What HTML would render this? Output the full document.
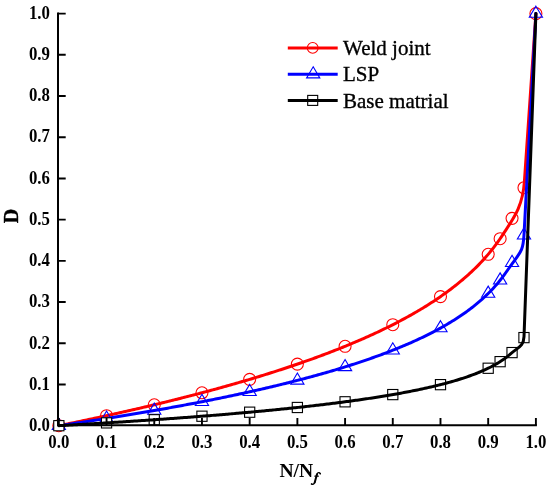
<!DOCTYPE html>
<html><head><meta charset="utf-8"><style>
html,body{margin:0;padding:0;background:#fff;}
svg{display:block;will-change:transform;}
text{font-family:"Liberation Serif",serif;}
</style></head><body>
<svg width="550" height="489" viewBox="0 0 550 489">
<rect width="550" height="489" fill="#fff"/>
<path d="M58.85,425.70 L60.33,425.40 L61.81,425.10 L63.29,424.80 L64.77,424.50 L66.24,424.20 L67.72,423.90 L69.20,423.59 L70.68,423.29 L72.16,422.99 L73.64,422.68 L75.12,422.37 L76.60,422.07 L78.08,421.76 L79.55,421.45 L81.03,421.14 L82.51,420.83 L83.99,420.52 L85.47,420.21 L86.95,419.90 L88.43,419.59 L89.91,419.27 L91.38,418.96 L92.86,418.64 L94.34,418.33 L95.82,418.01 L97.30,417.69 L98.78,417.37 L100.26,417.05 L101.74,416.73 L103.22,416.41 L104.69,416.09 L106.17,415.77 L107.65,415.45 L109.13,415.12 L110.61,414.80 L112.09,414.47 L113.57,414.14 L115.05,413.81 L116.53,413.49 L118.00,413.16 L119.48,412.83 L120.96,412.49 L122.44,412.16 L123.92,411.83 L125.40,411.49 L126.88,411.16 L128.36,410.82 L129.84,410.49 L131.31,410.15 L132.79,409.81 L134.27,409.47 L135.75,409.13 L137.23,408.79 L138.71,408.44 L140.19,408.10 L141.67,407.75 L143.14,407.41 L144.62,407.06 L146.10,406.71 L147.58,406.37 L149.06,406.02 L150.54,405.66 L152.02,405.31 L153.50,404.96 L154.98,404.61 L156.45,404.25 L157.93,403.90 L159.41,403.54 L160.89,403.18 L162.37,402.82 L163.85,402.46 L165.33,402.10 L166.81,401.74 L168.29,401.37 L169.76,401.01 L171.24,400.64 L172.72,400.27 L174.20,399.91 L175.68,399.54 L177.16,399.17 L178.64,398.79 L180.12,398.42 L181.59,398.05 L183.07,397.67 L184.55,397.30 L186.03,396.92 L187.51,396.54 L188.99,396.16 L190.47,395.78 L191.95,395.40 L193.43,395.01 L194.90,394.63 L196.38,394.24 L197.86,393.85 L199.34,393.46 L200.82,393.07 L202.30,392.68 L203.78,392.29 L205.26,391.89 L206.74,391.50 L208.21,391.10 L209.69,390.70 L211.17,390.30 L212.65,389.90 L214.13,389.50 L215.61,389.09 L217.09,388.69 L218.57,388.28 L220.05,387.87 L221.52,387.46 L223.00,387.05 L224.48,386.64 L225.96,386.22 L227.44,385.81 L228.92,385.39 L230.40,384.97 L231.88,384.55 L233.35,384.13 L234.83,383.71 L236.31,383.28 L237.79,382.85 L239.27,382.42 L240.75,381.99 L242.23,381.56 L243.71,381.13 L245.19,380.69 L246.66,380.26 L248.14,379.82 L249.62,379.38 L251.10,378.94 L252.58,378.49 L254.06,378.05 L255.54,377.60 L257.02,377.15 L258.50,376.70 L259.97,376.25 L261.45,375.79 L262.93,375.33 L264.41,374.88 L265.89,374.42 L267.37,373.95 L268.85,373.49 L270.33,373.02 L271.81,372.55 L273.28,372.08 L274.76,371.61 L276.24,371.14 L277.72,370.66 L279.20,370.18 L280.68,369.70 L282.16,369.22 L283.64,368.73 L285.11,368.25 L286.59,367.76 L288.07,367.26 L289.55,366.77 L291.03,366.27 L292.51,365.78 L293.99,365.28 L295.47,364.77 L296.95,364.27 L298.42,363.76 L299.90,363.25 L301.38,362.74 L302.86,362.22 L304.34,361.70 L305.82,361.18 L307.30,360.66 L308.78,360.13 L310.26,359.61 L311.73,359.07 L313.21,358.54 L314.69,358.00 L316.17,357.47 L317.65,356.92 L319.13,356.38 L320.61,355.83 L322.09,355.28 L323.57,354.73 L325.04,354.17 L326.52,353.61 L328.00,353.05 L329.48,352.48 L330.96,351.92 L332.44,351.34 L333.92,350.77 L335.40,350.19 L336.87,349.61 L338.35,349.03 L339.83,348.44 L341.31,347.85 L342.79,347.25 L344.27,346.65 L345.75,346.05 L347.23,345.45 L348.71,344.84 L350.18,344.22 L351.66,343.61 L353.14,342.99 L354.62,342.36 L356.10,341.73 L357.58,341.10 L359.06,340.47 L360.54,339.83 L362.02,339.18 L363.49,338.53 L364.97,337.88 L366.45,337.22 L367.93,336.56 L369.41,335.89 L370.89,335.22 L372.37,334.55 L373.85,333.87 L375.32,333.18 L376.80,332.49 L378.28,331.80 L379.76,331.10 L381.24,330.39 L382.72,329.68 L384.20,328.97 L385.68,328.25 L387.16,327.52 L388.63,326.79 L390.11,326.05 L391.59,325.31 L393.07,324.56 L394.55,323.81 L396.03,323.05 L397.51,322.28 L398.99,321.51 L400.47,320.73 L401.94,319.94 L403.42,319.15 L404.90,318.35 L406.38,317.54 L407.86,316.73 L409.34,315.90 L410.82,315.08 L412.30,314.24 L413.78,313.40 L415.25,312.54 L416.73,311.69 L418.21,310.82 L419.69,309.94 L421.17,309.06 L422.65,308.16 L424.13,307.26 L425.61,306.35 L427.08,305.43 L428.56,304.50 L430.04,303.55 L431.52,302.60 L433.00,301.64 L434.48,300.67 L435.96,299.69 L437.44,298.69 L438.92,297.69 L440.39,296.67 L441.87,295.64 L443.35,294.60 L444.83,293.54 L446.31,292.48 L447.79,291.39 L449.27,290.30 L450.75,289.19 L452.23,288.06 L453.70,286.92 L455.18,285.77 L456.66,284.59 L458.14,283.40 L459.62,282.20 L461.10,280.97 L462.58,279.73 L464.06,278.47 L465.54,277.18 L467.01,275.88 L468.49,274.55 L469.97,273.20 L471.45,271.83 L472.93,270.44 L474.41,269.02 L475.89,267.57 L477.37,266.09 L478.84,264.59 L480.32,263.05 L481.80,261.49 L483.28,259.89 L484.76,258.25 L486.24,256.58 L487.72,254.87 L489.20,253.12 L490.68,251.33 L492.15,249.49 L493.63,247.61 L495.11,245.67 L496.59,243.68 L498.07,241.63 L499.55,239.51 L501.03,237.33 L502.51,235.08 C512.82,219.10 522.61,207.64 524.38,181.76 L535.90,13.60" fill="none" stroke="#ff0000" stroke-width="3" stroke-linejoin="round" stroke-linecap="round"/>
<circle cx="58.85" cy="425.70" r="6" fill="none" stroke="#ff0000" stroke-width="1.1"/>
<circle cx="106.56" cy="415.69" r="6" fill="none" stroke="#ff0000" stroke-width="1.1"/>
<circle cx="154.26" cy="404.78" r="6" fill="none" stroke="#ff0000" stroke-width="1.1"/>
<circle cx="201.96" cy="392.77" r="6" fill="none" stroke="#ff0000" stroke-width="1.1"/>
<circle cx="249.67" cy="379.36" r="6" fill="none" stroke="#ff0000" stroke-width="1.1"/>
<circle cx="297.38" cy="364.12" r="6" fill="none" stroke="#ff0000" stroke-width="1.1"/>
<circle cx="345.08" cy="346.32" r="6" fill="none" stroke="#ff0000" stroke-width="1.1"/>
<circle cx="392.78" cy="324.71" r="6" fill="none" stroke="#ff0000" stroke-width="1.1"/>
<circle cx="440.49" cy="296.60" r="6" fill="none" stroke="#ff0000" stroke-width="1.1"/>
<circle cx="488.19" cy="254.31" r="6" fill="none" stroke="#ff0000" stroke-width="1.1"/>
<circle cx="500.12" cy="238.68" r="6" fill="none" stroke="#ff0000" stroke-width="1.1"/>
<circle cx="512.05" cy="218.34" r="6" fill="none" stroke="#ff0000" stroke-width="1.1"/>
<circle cx="523.97" cy="187.75" r="6" fill="none" stroke="#ff0000" stroke-width="1.1"/>
<circle cx="535.90" cy="13.60" r="6" fill="none" stroke="#ff0000" stroke-width="1.1"/>
<path d="M58.85,425.70 L60.34,425.48 L61.83,425.27 L63.32,425.05 L64.81,424.83 L66.30,424.61 L67.79,424.39 L69.29,424.17 L70.78,423.95 L72.27,423.73 L73.76,423.51 L75.25,423.29 L76.74,423.06 L78.23,422.84 L79.72,422.61 L81.21,422.39 L82.70,422.16 L84.19,421.94 L85.68,421.71 L87.17,421.48 L88.67,421.26 L90.16,421.03 L91.65,420.80 L93.14,420.57 L94.63,420.34 L96.12,420.11 L97.61,419.87 L99.10,419.64 L100.59,419.41 L102.08,419.18 L103.57,418.94 L105.06,418.71 L106.56,418.47 L108.05,418.23 L109.54,418.00 L111.03,417.76 L112.52,417.52 L114.01,417.28 L115.50,417.04 L116.99,416.80 L118.48,416.56 L119.97,416.32 L121.46,416.07 L122.95,415.83 L124.44,415.59 L125.94,415.34 L127.43,415.09 L128.92,414.85 L130.41,414.60 L131.90,414.35 L133.39,414.10 L134.88,413.85 L136.37,413.60 L137.86,413.35 L139.35,413.10 L140.84,412.85 L142.33,412.59 L143.82,412.34 L145.32,412.09 L146.81,411.83 L148.30,411.57 L149.79,411.31 L151.28,411.06 L152.77,410.80 L154.26,410.54 L155.75,410.28 L157.24,410.01 L158.73,409.75 L160.22,409.49 L161.71,409.22 L163.20,408.96 L164.70,408.69 L166.19,408.43 L167.68,408.16 L169.17,407.89 L170.66,407.62 L172.15,407.35 L173.64,407.08 L175.13,406.80 L176.62,406.53 L178.11,406.26 L179.60,405.98 L181.09,405.70 L182.58,405.43 L184.08,405.15 L185.57,404.87 L187.06,404.59 L188.55,404.31 L190.04,404.03 L191.53,403.74 L193.02,403.46 L194.51,403.17 L196.00,402.89 L197.49,402.60 L198.98,402.31 L200.47,402.02 L201.96,401.73 L203.46,401.44 L204.95,401.15 L206.44,400.85 L207.93,400.56 L209.42,400.26 L210.91,399.97 L212.40,399.67 L213.89,399.37 L215.38,399.07 L216.87,398.77 L218.36,398.46 L219.85,398.16 L221.35,397.85 L222.84,397.55 L224.33,397.24 L225.82,396.93 L227.31,396.62 L228.80,396.31 L230.29,395.99 L231.78,395.68 L233.27,395.37 L234.76,395.05 L236.25,394.73 L237.74,394.41 L239.23,394.09 L240.73,393.77 L242.22,393.45 L243.71,393.12 L245.20,392.80 L246.69,392.47 L248.18,392.14 L249.67,391.81 L251.16,391.48 L252.65,391.14 L254.14,390.81 L255.63,390.47 L257.12,390.14 L258.61,389.80 L260.11,389.46 L261.60,389.11 L263.09,388.77 L264.58,388.43 L266.07,388.08 L267.56,387.73 L269.05,387.38 L270.54,387.03 L272.03,386.68 L273.52,386.32 L275.01,385.96 L276.50,385.61 L277.99,385.25 L279.49,384.88 L280.98,384.52 L282.47,384.16 L283.96,383.79 L285.45,383.42 L286.94,383.05 L288.43,382.68 L289.92,382.30 L291.41,381.92 L292.90,381.55 L294.39,381.17 L295.88,380.78 L297.38,380.40 L298.87,380.01 L300.36,379.63 L301.85,379.24 L303.34,378.84 L304.83,378.45 L306.32,378.05 L307.81,377.65 L309.30,377.25 L310.79,376.85 L312.28,376.44 L313.77,376.04 L315.26,375.63 L316.76,375.22 L318.25,374.80 L319.74,374.38 L321.23,373.96 L322.72,373.54 L324.21,373.12 L325.70,372.69 L327.19,372.26 L328.68,371.83 L330.17,371.40 L331.66,370.96 L333.15,370.52 L334.64,370.08 L336.14,369.63 L337.63,369.19 L339.12,368.74 L340.61,368.28 L342.10,367.83 L343.59,367.37 L345.08,366.90 L346.57,366.44 L348.06,365.97 L349.55,365.50 L351.04,365.02 L352.53,364.55 L354.02,364.07 L355.52,363.58 L357.01,363.09 L358.50,362.60 L359.99,362.11 L361.48,361.61 L362.97,361.11 L364.46,360.60 L365.95,360.10 L367.44,359.58 L368.93,359.07 L370.42,358.55 L371.91,358.02 L373.40,357.49 L374.90,356.96 L376.39,356.43 L377.88,355.89 L379.37,355.34 L380.86,354.79 L382.35,354.24 L383.84,353.68 L385.33,353.12 L386.82,352.55 L388.31,351.98 L389.80,351.40 L391.29,350.82 L392.78,350.23 L394.28,349.64 L395.77,349.05 L397.26,348.44 L398.75,347.84 L400.24,347.22 L401.73,346.60 L403.22,345.98 L404.71,345.35 L406.20,344.71 L407.69,344.07 L409.18,343.42 L410.67,342.77 L412.17,342.11 L413.66,341.44 L415.15,340.76 L416.64,340.08 L418.13,339.39 L419.62,338.69 L421.11,337.99 L422.60,337.28 L424.09,336.56 L425.58,335.83 L427.07,335.10 L428.56,334.35 L430.05,333.60 L431.55,332.84 L433.04,332.07 L434.53,331.29 L436.02,330.50 L437.51,329.70 L439.00,328.89 L440.49,328.07 L441.98,327.24 L443.47,326.39 L444.96,325.54 L446.45,324.68 L447.94,323.80 L449.43,322.91 L450.93,322.01 L452.42,321.09 L453.91,320.16 L455.40,319.22 L456.89,318.26 L458.38,317.29 L459.87,316.30 L461.36,315.29 L462.85,314.27 L464.34,313.23 L465.83,312.17 L467.32,311.10 L468.81,310.00 L470.31,308.88 L471.80,307.74 L473.29,306.58 L474.78,305.40 L476.27,304.19 L477.76,302.96 L479.25,301.70 L480.74,300.41 L482.23,299.09 L483.72,297.75 L485.21,296.37 L486.70,294.95 L488.19,293.50 L489.69,292.01 L491.18,290.48 L492.67,288.91 L494.16,287.29 L495.65,285.62 L497.14,283.90 L498.63,282.13 L500.12,280.29 L501.61,278.39 L503.10,276.42 L504.59,274.38 L506.08,272.25 C520.32,251.50 523.01,253.19 524.03,234.35 L535.90,13.60" fill="none" stroke="#0000ff" stroke-width="3" stroke-linejoin="round" stroke-linecap="round"/>
<path d="M58.85,418.30 L65.45,429.40 L52.25,429.40 Z" fill="none" stroke="#0000ff" stroke-width="1.1" stroke-linejoin="miter"/>
<path d="M106.56,411.07 L113.16,422.17 L99.96,422.17 Z" fill="none" stroke="#0000ff" stroke-width="1.1" stroke-linejoin="miter"/>
<path d="M154.26,403.14 L160.86,414.24 L147.66,414.24 Z" fill="none" stroke="#0000ff" stroke-width="1.1" stroke-linejoin="miter"/>
<path d="M201.96,394.33 L208.56,405.43 L195.36,405.43 Z" fill="none" stroke="#0000ff" stroke-width="1.1" stroke-linejoin="miter"/>
<path d="M249.67,384.41 L256.27,395.51 L243.07,395.51 Z" fill="none" stroke="#0000ff" stroke-width="1.1" stroke-linejoin="miter"/>
<path d="M297.38,373.00 L303.98,384.10 L290.77,384.10 Z" fill="none" stroke="#0000ff" stroke-width="1.1" stroke-linejoin="miter"/>
<path d="M345.08,359.50 L351.68,370.60 L338.48,370.60 Z" fill="none" stroke="#0000ff" stroke-width="1.1" stroke-linejoin="miter"/>
<path d="M392.78,342.83 L399.38,353.93 L386.18,353.93 Z" fill="none" stroke="#0000ff" stroke-width="1.1" stroke-linejoin="miter"/>
<path d="M440.49,320.67 L447.09,331.77 L433.89,331.77 Z" fill="none" stroke="#0000ff" stroke-width="1.1" stroke-linejoin="miter"/>
<path d="M488.19,286.10 L494.80,297.20 L481.59,297.20 Z" fill="none" stroke="#0000ff" stroke-width="1.1" stroke-linejoin="miter"/>
<path d="M500.12,272.89 L506.72,283.99 L493.52,283.99 Z" fill="none" stroke="#0000ff" stroke-width="1.1" stroke-linejoin="miter"/>
<path d="M512.05,255.33 L518.65,266.43 L505.45,266.43 Z" fill="none" stroke="#0000ff" stroke-width="1.1" stroke-linejoin="miter"/>
<path d="M523.97,227.95 L530.57,239.05 L517.37,239.05 Z" fill="none" stroke="#0000ff" stroke-width="1.1" stroke-linejoin="miter"/>
<path d="M535.90,6.20 L542.50,17.30 L529.30,17.30 Z" fill="none" stroke="#0000ff" stroke-width="1.1" stroke-linejoin="miter"/>
<rect x="53.75" y="420.60" width="10.2" height="10.2" fill="#fff" stroke="#000" stroke-width="1.1"/>
<rect x="101.46" y="417.78" width="10.2" height="10.2" fill="#fff" stroke="#000" stroke-width="1.1"/>
<rect x="149.16" y="414.65" width="10.2" height="10.2" fill="#fff" stroke="#000" stroke-width="1.1"/>
<rect x="196.86" y="411.13" width="10.2" height="10.2" fill="#fff" stroke="#000" stroke-width="1.1"/>
<rect x="244.57" y="407.10" width="10.2" height="10.2" fill="#fff" stroke="#000" stroke-width="1.1"/>
<rect x="292.27" y="402.39" width="10.2" height="10.2" fill="#fff" stroke="#000" stroke-width="1.1"/>
<rect x="339.98" y="396.70" width="10.2" height="10.2" fill="#fff" stroke="#000" stroke-width="1.1"/>
<rect x="387.68" y="389.49" width="10.2" height="10.2" fill="#fff" stroke="#000" stroke-width="1.1"/>
<rect x="435.39" y="379.55" width="10.2" height="10.2" fill="#fff" stroke="#000" stroke-width="1.1"/>
<rect x="483.09" y="363.15" width="10.2" height="10.2" fill="#fff" stroke="#000" stroke-width="1.1"/>
<rect x="495.02" y="356.56" width="10.2" height="10.2" fill="#fff" stroke="#000" stroke-width="1.1"/>
<rect x="506.95" y="347.48" width="10.2" height="10.2" fill="#fff" stroke="#000" stroke-width="1.1"/>
<rect x="518.87" y="332.50" width="10.2" height="10.2" fill="#fff" stroke="#000" stroke-width="1.1"/>
<path d="M58.85,425.70 L60.36,425.62 L61.86,425.53 L63.37,425.44 L64.88,425.36 L66.38,425.27 L67.89,425.19 L69.40,425.10 L70.90,425.01 L72.41,424.93 L73.92,424.84 L75.42,424.75 L76.93,424.66 L78.44,424.58 L79.94,424.49 L81.45,424.40 L82.96,424.31 L84.46,424.22 L85.97,424.13 L87.48,424.04 L88.98,423.95 L90.49,423.86 L92.00,423.77 L93.50,423.68 L95.01,423.59 L96.52,423.50 L98.02,423.40 L99.53,423.31 L101.04,423.22 L102.54,423.13 L104.05,423.03 L105.56,422.94 L107.06,422.85 L108.57,422.75 L110.08,422.66 L111.58,422.56 L113.09,422.47 L114.60,422.37 L116.10,422.28 L117.61,422.18 L119.12,422.09 L120.62,421.99 L122.13,421.89 L123.64,421.80 L125.14,421.70 L126.65,421.60 L128.16,421.50 L129.66,421.41 L131.17,421.31 L132.68,421.21 L134.18,421.11 L135.69,421.01 L137.20,420.91 L138.70,420.81 L140.21,420.71 L141.72,420.60 L143.22,420.50 L144.73,420.40 L146.24,420.30 L147.74,420.20 L149.25,420.09 L150.76,419.99 L152.26,419.89 L153.77,419.78 L155.28,419.68 L156.78,419.57 L158.29,419.47 L159.80,419.36 L161.30,419.25 L162.81,419.15 L164.32,419.04 L165.82,418.93 L167.33,418.83 L168.84,418.72 L170.34,418.61 L171.85,418.50 L173.36,418.39 L174.86,418.28 L176.37,418.17 L177.88,418.06 L179.38,417.95 L180.89,417.84 L182.40,417.72 L183.90,417.61 L185.41,417.50 L186.92,417.39 L188.42,417.27 L189.93,417.16 L191.44,417.04 L192.94,416.93 L194.45,416.81 L195.96,416.70 L197.46,416.58 L198.97,416.46 L200.48,416.34 L201.98,416.23 L203.49,416.11 L205.00,415.99 L206.50,415.87 L208.01,415.75 L209.52,415.63 L211.02,415.51 L212.53,415.38 L214.04,415.26 L215.55,415.14 L217.05,415.02 L218.56,414.89 L220.07,414.77 L221.57,414.64 L223.08,414.52 L224.59,414.39 L226.09,414.26 L227.60,414.14 L229.11,414.01 L230.61,413.88 L232.12,413.75 L233.63,413.62 L235.13,413.49 L236.64,413.36 L238.15,413.23 L239.65,413.10 L241.16,412.96 L242.67,412.83 L244.17,412.70 L245.68,412.56 L247.19,412.43 L248.69,412.29 L250.20,412.15 L251.71,412.02 L253.21,411.88 L254.72,411.74 L256.23,411.60 L257.73,411.46 L259.24,411.32 L260.75,411.18 L262.25,411.03 L263.76,410.89 L265.27,410.75 L266.77,410.60 L268.28,410.46 L269.79,410.31 L271.29,410.16 L272.80,410.02 L274.31,409.87 L275.81,409.72 L277.32,409.57 L278.83,409.42 L280.33,409.27 L281.84,409.11 L283.35,408.96 L284.85,408.81 L286.36,408.65 L287.87,408.50 L289.37,408.34 L290.88,408.18 L292.39,408.02 L293.89,407.86 L295.40,407.70 L296.91,407.54 L298.41,407.38 L299.92,407.22 L301.43,407.05 L302.93,406.89 L304.44,406.72 L305.95,406.55 L307.45,406.38 L308.96,406.21 L310.47,406.04 L311.97,405.87 L313.48,405.70 L314.99,405.53 L316.49,405.35 L318.00,405.17 L319.51,405.00 L321.01,404.82 L322.52,404.64 L324.03,404.46 L325.53,404.28 L327.04,404.09 L328.55,403.91 L330.05,403.72 L331.56,403.54 L333.07,403.35 L334.57,403.16 L336.08,402.97 L337.59,402.78 L339.09,402.58 L340.60,402.39 L342.11,402.19 L343.61,402.00 L345.12,401.80 L346.63,401.60 L348.13,401.39 L349.64,401.19 L351.15,400.98 L352.65,400.78 L354.16,400.57 L355.67,400.36 L357.17,400.15 L358.68,399.93 L360.19,399.72 L361.69,399.50 L363.20,399.28 L364.71,399.06 L366.21,398.84 L367.72,398.62 L369.23,398.39 L370.73,398.16 L372.24,397.93 L373.75,397.70 L375.25,397.47 L376.76,397.23 L378.27,397.00 L379.77,396.76 L381.28,396.51 L382.79,396.27 L384.29,396.02 L385.80,395.77 L387.31,395.52 L388.81,395.27 L390.32,395.01 L391.83,394.75 L393.33,394.49 L394.84,394.23 L396.35,393.96 L397.85,393.69 L399.36,393.42 L400.87,393.15 L402.37,392.87 L403.88,392.59 L405.39,392.30 L406.89,392.02 L408.40,391.73 L409.91,391.44 L411.41,391.14 L412.92,390.84 L414.43,390.54 L415.93,390.23 L417.44,389.92 L418.95,389.61 L420.45,389.29 L421.96,388.97 L423.47,388.64 L424.97,388.31 L426.48,387.98 L427.99,387.64 L429.49,387.30 L431.00,386.95 L432.51,386.60 L434.01,386.24 L435.52,385.88 L437.03,385.51 L438.53,385.14 L440.04,384.76 L441.55,384.38 L443.05,383.99 L444.56,383.59 L446.07,383.19 L447.57,382.79 L449.08,382.37 L450.59,381.95 L452.09,381.52 L453.60,381.09 L455.11,380.65 L456.61,380.20 L458.12,379.74 L459.63,379.27 L461.13,378.80 L462.64,378.31 L464.15,377.82 L465.65,377.31 L467.16,376.80 L468.67,376.28 L470.17,375.74 L471.68,375.19 L473.19,374.63 L474.69,374.06 L476.20,373.48 L477.71,372.88 L479.21,372.26 L480.72,371.63 L482.23,370.99 L483.73,370.33 L485.24,369.64 L486.75,368.94 L488.25,368.22 L489.76,367.48 L491.27,366.72 L492.77,365.93 L494.28,365.11 L495.79,364.27 L497.29,363.39 L498.80,362.49 L500.31,361.54 L501.81,360.56 L503.32,359.54 L504.83,358.48 L506.33,357.36 L507.84,356.19 L509.35,354.96 L510.85,353.66 C518.11,347.24 523.65,346.29 524.01,336.60 L535.90,13.60" fill="none" stroke="#000" stroke-width="3" stroke-linejoin="round" stroke-linecap="round"/>
<path d="M58.0,12.6 V425.3 H536.9" fill="none" stroke="#000" stroke-width="2"/>
<path d="M58.0,425.70 H65.7 M58.85,425.3 V418 M58.0,384.49 H65.7 M106.56,425.3 V418 M58.0,343.28 H65.7 M154.26,425.3 V418 M58.0,302.07 H65.7 M201.96,425.3 V418 M58.0,260.86 H65.7 M249.67,425.3 V418 M58.0,219.65 H65.7 M297.38,425.3 V418 M58.0,178.44 H65.7 M345.08,425.3 V418 M58.0,137.23 H65.7 M392.78,425.3 V418 M58.0,96.02 H65.7 M440.49,425.3 V418 M58.0,54.81 H65.7 M488.19,425.3 V418 M58.0,13.60 H65.7 M535.90,425.3 V418" fill="none" stroke="#000" stroke-width="1.9"/>
<text transform="translate(49.9,430.95) scale(1,1.06)" font-size="16.8" font-weight="bold" text-anchor="end">0.0</text>
<text transform="translate(58.85,447.5) scale(1,1.06)" font-size="16.8" font-weight="bold" text-anchor="middle">0.0</text>
<text transform="translate(49.9,389.74) scale(1,1.06)" font-size="16.8" font-weight="bold" text-anchor="end">0.1</text>
<text transform="translate(106.56,447.5) scale(1,1.06)" font-size="16.8" font-weight="bold" text-anchor="middle">0.1</text>
<text transform="translate(49.9,348.53) scale(1,1.06)" font-size="16.8" font-weight="bold" text-anchor="end">0.2</text>
<text transform="translate(154.26,447.5) scale(1,1.06)" font-size="16.8" font-weight="bold" text-anchor="middle">0.2</text>
<text transform="translate(49.9,307.32) scale(1,1.06)" font-size="16.8" font-weight="bold" text-anchor="end">0.3</text>
<text transform="translate(201.96,447.5) scale(1,1.06)" font-size="16.8" font-weight="bold" text-anchor="middle">0.3</text>
<text transform="translate(49.9,266.11) scale(1,1.06)" font-size="16.8" font-weight="bold" text-anchor="end">0.4</text>
<text transform="translate(249.67,447.5) scale(1,1.06)" font-size="16.8" font-weight="bold" text-anchor="middle">0.4</text>
<text transform="translate(49.9,224.90) scale(1,1.06)" font-size="16.8" font-weight="bold" text-anchor="end">0.5</text>
<text transform="translate(297.38,447.5) scale(1,1.06)" font-size="16.8" font-weight="bold" text-anchor="middle">0.5</text>
<text transform="translate(49.9,183.69) scale(1,1.06)" font-size="16.8" font-weight="bold" text-anchor="end">0.6</text>
<text transform="translate(345.08,447.5) scale(1,1.06)" font-size="16.8" font-weight="bold" text-anchor="middle">0.6</text>
<text transform="translate(49.9,142.48) scale(1,1.06)" font-size="16.8" font-weight="bold" text-anchor="end">0.7</text>
<text transform="translate(392.78,447.5) scale(1,1.06)" font-size="16.8" font-weight="bold" text-anchor="middle">0.7</text>
<text transform="translate(49.9,101.27) scale(1,1.06)" font-size="16.8" font-weight="bold" text-anchor="end">0.8</text>
<text transform="translate(440.49,447.5) scale(1,1.06)" font-size="16.8" font-weight="bold" text-anchor="middle">0.8</text>
<text transform="translate(49.9,60.06) scale(1,1.06)" font-size="16.8" font-weight="bold" text-anchor="end">0.9</text>
<text transform="translate(488.19,447.5) scale(1,1.06)" font-size="16.8" font-weight="bold" text-anchor="middle">0.9</text>
<text transform="translate(49.9,18.85) scale(1,1.06)" font-size="16.8" font-weight="bold" text-anchor="end">1.0</text>
<text transform="translate(535.90,447.5) scale(1,1.06)" font-size="16.8" font-weight="bold" text-anchor="middle">1.0</text>
<text x="0" y="0" font-size="20" font-weight="bold" stroke="#000" stroke-width="0.4" text-anchor="middle" transform="translate(18.4,216) rotate(-90)">D</text>
<text x="279.4" y="476.5" font-size="19.6" font-weight="bold">N/N</text>
<g fill="none" stroke="#000" stroke-linecap="round"><path d="M320.3,473.7 C319.7,472.2 317.7,472.2 317,474.3" stroke-width="1.25"/><path d="M317,474.3 L314.7,482.4" stroke-width="2.0"/><path d="M314.7,482.4 C314.2,484.3 312.6,484.7 311.4,484" stroke-width="1.4"/><path d="M314.9,476.2 H318.3" stroke-width="1.2"/></g><circle cx="320.2" cy="473.7" r="0.8" fill="#000"/><circle cx="311.7" cy="484" r="0.8" fill="#000"/>
<path d="M287.8,47.9 H337.7" stroke="#ff0000" stroke-width="3"/>
<circle cx="312.7" cy="47.9" r="5.4" fill="none" stroke="#ff0000" stroke-width="1.1"/>
<path d="M287.8,74.2 H337.7" stroke="#0000ff" stroke-width="3"/>
<path d="M313.20,66.80 L319.80,77.90 L306.60,77.90 Z" fill="none" stroke="#0000ff" stroke-width="1.1" stroke-linejoin="miter"/>
<rect x="307.7" y="95.4" width="10" height="10" fill="#fff" stroke="#000" stroke-width="1.1"/>
<path d="M287.8,100.4 H337.7" stroke="#000" stroke-width="3"/>
<text x="343" y="54.8" font-size="21" stroke="#000" stroke-width="0.35">Weld joint</text>
<text x="343" y="81.4" font-size="21" stroke="#000" stroke-width="0.35">LSP</text>
<text x="343" y="108" font-size="21" stroke="#000" stroke-width="0.35">Base matrial</text>
</svg></body></html>
